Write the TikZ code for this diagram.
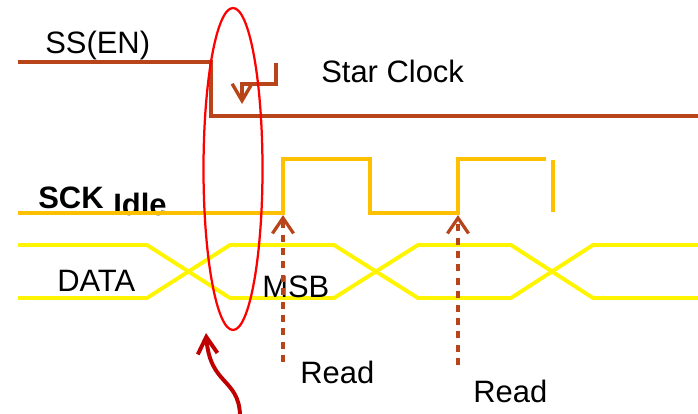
\documentclass[tikz,border=0pt]{standalone}
\usepackage{fontspec}
\setmainfont{Liberation Sans}
\usetikzlibrary{arrows.meta}
\definecolor{ssbrown}{RGB}{184,68,26}
\definecolor{sckorange}{RGB}{255,192,0}
\definecolor{datayellow}{RGB}{255,245,0}
\definecolor{markred}{RGB}{192,0,0}
\begin{document}
\begin{tikzpicture}[x=0.025cm,y=-0.025cm,
  txt/.style={font=\fontsize{22}{26}\selectfont,inner sep=0pt,anchor=base west},
  sigline/.style={line width=2.6pt},
  readarrow/.style={ssbrown,line width=2.3pt,dash pattern=on 5pt off 4.5pt,
    -{Straight Barb[length=11pt,width=15pt]},shorten >=1.5pt}]

\useasboundingbox (0,0) rectangle (698,414);

% SS(EN)
\draw[ssbrown,sigline] (18,62) -- (211,62) -- (211,116) -- (698,116);
\node[txt] (ss) at (45,53) {SS(EN)};

% Star Clock
\draw[ssbrown,line width=2.4pt,-{Straight Barb[length=12pt,width=14pt]}]
  (276,63) -- (276,84) -- (242,84) -- (242,104);
\node[txt] (star) at (321,82) {Star Clock};

% SCK
\node[txt,font=\fontsize{22}{26}\selectfont\bfseries] (sck) at (38,208) {SCK};
\node[txt,font=\fontsize{22}{26}\selectfont\bfseries] (idle) at (113,215) {Idle};
\draw[sckorange,sigline] (18,213) -- (283,213) coordinate (rise1) -- (283,159)
  -- (370,159) -- (370,213) -- (458,213) coordinate (rise2) -- (458,159) -- (546,159);
\draw[sckorange,sigline] (553,160) -- (553,212);

% DATA
\draw[datayellow,line width=2.8pt] (18,245) -- (147,245) -- (230,298) -- (334,298)
  -- (418,245) -- (511,245) -- (593,298) -- (698,298);
\draw[datayellow,line width=2.8pt] (18,298) -- (147,298) -- (230,245) -- (334,245)
  -- (418,298) -- (511,298) -- (593,245) -- (698,245);
\node[txt] (data) at (57,291) {DATA};
\node[txt] (msb) at (262,297) {MSB};

% Read
\coordinate (r1) at (283,362);
\coordinate (r2) at (458,365);
\draw[readarrow] (r1) -- (rise1);
\draw[readarrow] (r2) -- (rise2);
\node[txt] (read1) at (300,383) {Read};
\node[txt] (read2) at (473,402) {Read};

% falling edge
\draw[red,line width=1.6pt] (233,169) ellipse [x radius=29.5, y radius=161];
\coordinate (tail) at (240,414);
\coordinate (tip) at (206,333);
\draw[markred,line width=2.8pt,-{Straight Barb[length=12pt,width=14pt]}]
  (tail) .. controls (238,378) and (210,385) .. (tip);

\end{tikzpicture}
\end{document}
